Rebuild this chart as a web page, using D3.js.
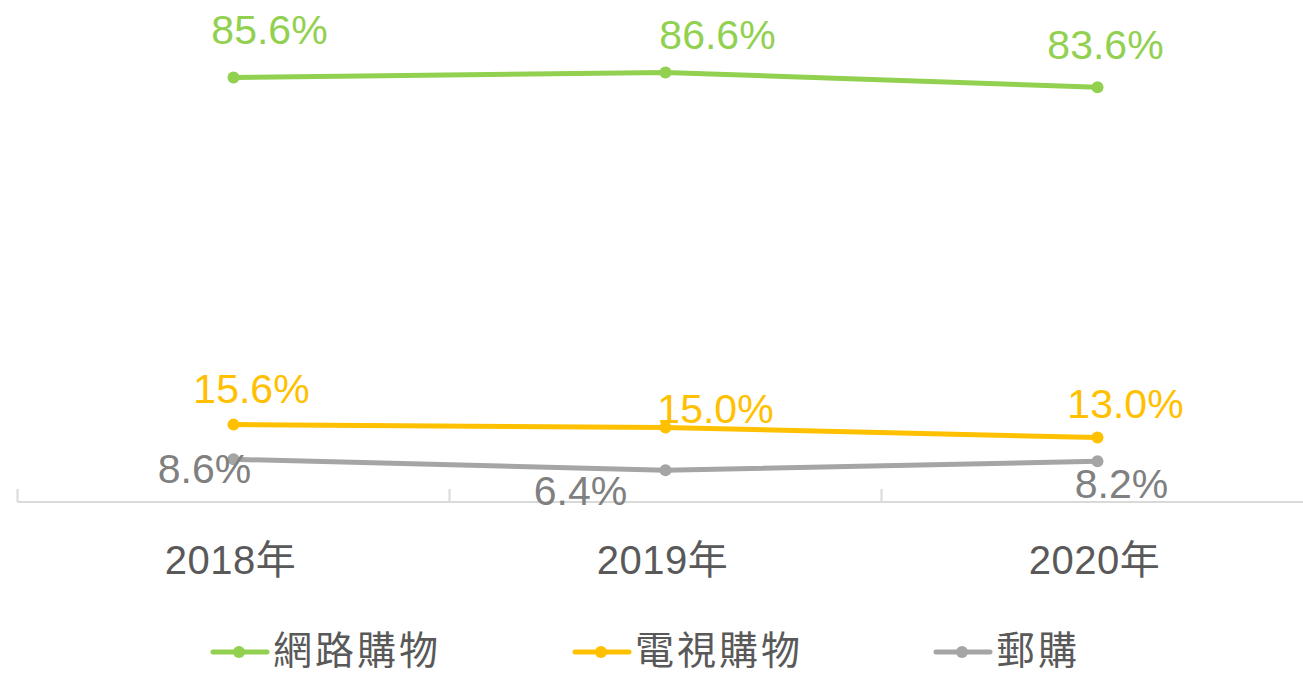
<!DOCTYPE html>
<html lang="zh-Hant">
    <head>
        <meta charset="utf-8"/>
        <script src="https://d3js.org/d3.v7.min.js"></script>
        <style>
            body { margin: 0; background: #fff; }
            text { font-family: "Liberation Sans", "Noto Sans CJK TC", sans-serif; }
        </style>
    </head>
    <body>
        <div id="chart"></div>
    </body>
    <script>
        // data
        var years = ["2018年", "2019年", "2020年"];
        var seriesNames = ["網路購物", "電視購物", "郵購"];
        var online = [85.6, 86.6, 83.6];
        var tv = [15.6, 15.0, 13.0];
        var mail = [8.6, 6.4, 8.2];

        var colors = ["#92d050", "#ffc000", "#a5a5a5"];
        var labelColors = ["#92d050", "#ffc000", "#808080"];
        // label offsets from each point, [dx, dy]
        var labelOffsets = [
            [[36, -33], [52, -23], [8, -28]],
            [[18, -22], [50, -5], [28, -20]],
            [[-29, 24], [-85, 35], [24, 37]]
        ];

        var W = 1303, H = 676;
        var axisY = 502;

        var svg = d3.select("#chart")
            .append("svg")
                .attr("width", W)
                .attr("height", H)

        var x = d3.scaleBand()
            .domain(years)
            .range([17.5, 1313.5])
            .padding(0)

        var y = d3.scaleLinear()
            .domain([0, 100])
            .range([axisY, 6])

        // axis line and ticks between categories
        svg.append("line")
            .attr("x1", 17.5).attr("x2", W)
            .attr("y1", axisY).attr("y2", axisY)
            .style("stroke", "#d9d9d9")
            .style("stroke-width", 2)

        svg.selectAll(".tick")
            .data(years)
            .enter()
            .append("line")
                .attr("x1", function(d) { return x(d); })
                .attr("x2", function(d) { return x(d); })
                .attr("y1", axisY)
                .attr("y2", axisY - 13)
                .style("stroke", "#d9d9d9")
                .style("stroke-width", 2)

        svg.selectAll(".year")
            .data(years)
            .enter()
            .append("text")
                .attr("x", function(d) { return x(d) + x.bandwidth() / 2 - 3; })
                .attr("y", 574)
                .attr("text-anchor", "middle")
                .style("font-size", "40px")
                .style("letter-spacing", "0.5px")
                .style("fill", "#595959")
                .text(function(d) { return d; })

        var series = [online, tv, mail];
        var cx = function(d, i) { return x(years[i]) + x.bandwidth() / 2; };

        var line = d3.line()
            .x(function(d, i) { return cx(d, i); })
            .y(function(d) { return y(d); })

        series.forEach(function(vals, s) {
            svg.append("path")
                .datum(vals)
                .attr("d", line)
                .style("fill", "none")
                .style("stroke", colors[s])
                .style("stroke-width", 5)
                .style("stroke-linejoin", "round")

            svg.selectAll(".dot" + s)
                .data(vals)
                .enter()
                .append("circle")
                    .attr("cx", cx)
                    .attr("cy", function(d) { return y(d); })
                    .attr("r", 6)
                    .style("fill", colors[s])

            svg.selectAll(".lab" + s)
                .data(vals)
                .enter()
                .append("text")
                    .attr("x", function(d, i) { return cx(d, i) + labelOffsets[s][i][0]; })
                    .attr("y", function(d, i) { return y(d) + labelOffsets[s][i][1]; })
                    .attr("text-anchor", "middle")
                    .style("font-size", "41px")
                    .style("fill", labelColors[s])
                    .text(function(d) { return d.toFixed(1) + "%"; })
        });

        // legend
        var legendX = [239, 601, 962];
        var legendY = 652;
        var legend = svg.selectAll(".legend")
            .data(seriesNames)
            .enter()
            .append("g")
                .attr("transform", function(d, i) { return "translate(" + legendX[i] + "," + legendY + ")"; })

        legend.append("line")
            .attr("x1", -26).attr("x2", 28)
            .attr("y1", 0).attr("y2", 0)
            .style("stroke", function(d, i) { return colors[i]; })
            .style("stroke-width", 5)
            .style("stroke-linecap", "round")

        legend.append("circle")
            .attr("r", 6)
            .style("fill", function(d, i) { return colors[i]; })

        legend.append("text")
            .attr("x", 34)
            .attr("y", -2)
            .attr("dy", "0.36em")
            .style("font-family", "'Noto Sans CJK TC', sans-serif")
            .style("font-size", "39px")
            .style("letter-spacing", "3px")
            .style("fill", "#595959")
            .text(function(d) { return d; })
    </script>
</html>
